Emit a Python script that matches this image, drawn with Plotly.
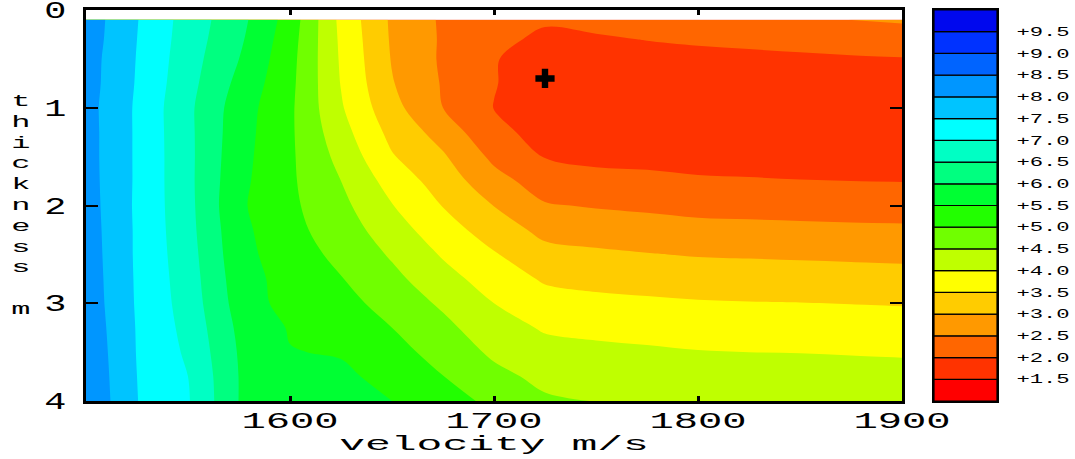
import plotly.graph_objects as go

# ---- data ----
velocity = [1500, 1525, 1550, 1575, 1600, 1625, 1650, 1675, 1700,
            1725, 1750, 1775, 1800, 1825, 1850, 1875, 1900]
thickness = [0.1, 0.3, 0.5, 0.75, 1.0, 1.25, 1.5, 1.75, 2.0,
             2.25, 2.5, 2.75, 3.0, 3.25, 3.5, 3.75, 4.0]
misfit = [
    [8.29, 7.52, 6.79, 6.16, 5.29, 3.87, 2.92, 2.43, 2.22, 2.06, 2.10, 2.15, 2.20, 2.25, 2.33, 2.51, 2.56],
    [8.27, 7.50, 6.76, 6.09, 5.22, 3.91, 2.94, 2.44, 2.13, 1.90, 1.96, 2.01, 2.05, 2.08, 2.12, 2.18, 2.24],
    [8.23, 7.48, 6.72, 6.00, 5.17, 3.94, 2.97, 2.43, 2.02, 1.84, 1.86, 1.88, 1.90, 1.92, 1.94, 1.96, 1.98],
    [8.22, 7.46, 6.67, 5.87, 5.13, 3.98, 3.03, 2.46, 2.02, 1.78, 1.80, 1.82, 1.83, 1.84, 1.85, 1.86, 1.87],
    [8.19, 7.43, 6.61, 5.75, 5.09, 4.05, 3.16, 2.50, 1.99, 1.80, 1.81, 1.82, 1.83, 1.84, 1.85, 1.86, 1.87],
    [8.20, 7.43, 6.62, 5.71, 5.08, 4.19, 3.35, 2.80, 2.10, 1.87, 1.84, 1.83, 1.84, 1.84, 1.85, 1.86, 1.87],
    [8.20, 7.43, 6.63, 5.67, 5.08, 4.35, 3.54, 3.06, 2.39, 1.98, 1.90, 1.87, 1.85, 1.85, 1.85, 1.86, 1.87],
    [8.21, 7.43, 6.63, 5.63, 5.08, 4.50, 3.80, 3.27, 2.68, 2.26, 2.13, 2.11, 2.05, 2.03, 2.01, 2.00, 1.99],
    [8.23, 7.42, 6.65, 5.58, 5.10, 4.63, 4.02, 3.48, 2.99, 2.54, 2.46, 2.41, 2.35, 2.33, 2.31, 2.29, 2.28],
    [8.25, 7.43, 6.67, 5.64, 5.14, 4.76, 4.23, 3.71, 3.27, 2.86, 2.78, 2.71, 2.65, 2.63, 2.61, 2.59, 2.58],
    [8.27, 7.43, 6.71, 5.68, 5.21, 4.89, 4.44, 3.95, 3.54, 3.16, 3.08, 3.02, 2.97, 2.95, 2.93, 2.91, 2.89],
    [8.29, 7.44, 6.75, 5.74, 5.29, 5.02, 4.63, 4.18, 3.77, 3.44, 3.36, 3.31, 3.26, 3.24, 3.22, 3.20, 3.18],
    [8.31, 7.45, 6.79, 5.80, 5.30, 5.17, 4.81, 4.42, 4.00, 3.70, 3.62, 3.58, 3.54, 3.52, 3.51, 3.49, 3.47],
    [8.35, 7.47, 6.85, 5.90, 5.46, 5.32, 5.00, 4.63, 4.20, 3.95, 3.88, 3.83, 3.78, 3.77, 3.75, 3.73, 3.71],
    [8.39, 7.48, 6.92, 5.96, 5.52, 5.46, 5.17, 4.82, 4.41, 4.16, 4.11, 4.07, 4.02, 4.00, 3.99, 3.97, 3.95],
    [8.42, 7.50, 7.00, 5.99, 5.70, 5.60, 5.34, 5.01, 4.64, 4.37, 4.33, 4.29, 4.24, 4.22, 4.21, 4.19, 4.17],
    [8.45, 7.51, 7.04, 5.99, 5.83, 5.70, 5.50, 5.18, 4.90, 4.57, 4.49, 4.46, 4.44, 4.42, 4.41, 4.40, 4.38],
]
best_velocity = [1725]
best_thickness = [0.7]

levels = [1.5, 2.0, 2.5, 3.0, 3.5, 4.0, 4.5, 5.0, 5.5, 6.0, 6.5, 7.0, 7.5, 8.0, 8.5, 9.0, 9.5]
level_labels = ["+1.5", "+2.0", "+2.5", "+3.0", "+3.5", "+4.0", "+4.5", "+5.0", "+5.5",
                "+6.0", "+6.5", "+7.0", "+7.5", "+8.0", "+8.5", "+9.0", "+9.5"]
band_colors = ["#FF0000", "#FF3300", "#FF6600", "#FF9900", "#FFCC00", "#FFFF00",
               "#BFFF00", "#70FF00", "#22FF00", "#00FF33", "#00FF80", "#00FFC4",
               "#00FFFF", "#00C4FF", "#0096FF", "#0064FF", "#0032FF", "#0008EE"]

FONT = "Liberation Mono"
step = levels[1] - levels[0]
n = len(band_colors)
colorscale = [[i / (n - 1), c] for i, c in enumerate(band_colors)]

fig = go.Figure()

fig.add_trace(go.Contour(
    x=velocity, y=thickness, z=misfit,
    autocontour=False,
    contours=dict(start=levels[0], end=levels[-1], size=step,
                  coloring="fill", showlines=False),
    line=dict(width=0),
    colorscale=colorscale,
    showscale=False,
    hoverinfo="skip",
))

fig.add_trace(go.Scatter(
    x=best_velocity, y=best_thickness, mode="markers",
    marker=dict(symbol="cross", size=16, color="black"),
    showlegend=False, hoverinfo="skip",
))

# discrete colour key drawn as stacked bands
band_base = [levels[0] - step] + levels
fig.add_trace(go.Bar(
    x=[0] * n, y=[step] * n, base=band_base, width=1,
    marker=dict(color=band_colors, line=dict(color="black", width=1.2)),
    xaxis="x2", yaxis="y2", showlegend=False, hoverinfo="skip",
))

W, H = 1075, 459
ml, mr, mt, mb = 86, 78, 10, 58
pw = W - ml - mr
ph = H - mt - mb
plot_right = 902
cb_left = 934

fig.update_layout(
    width=W, height=H,
    margin=dict(l=ml, r=mr, t=mt, b=mb, pad=0, autoexpand=False),
    paper_bgcolor="white", plot_bgcolor="white",
    showlegend=False,
    font=dict(family=FONT, color="black"),
    xaxis=dict(
        domain=[0, (plot_right - ml) / pw], range=[1500, 1900], automargin=False,
        tickvals=[1600, 1700, 1800, 1900], ticks="inside", ticklen=5, tickwidth=3,
        tickcolor="black", showline=True, linewidth=3, linecolor="black",
        mirror="ticks", showgrid=False, zeroline=False,
        tickfont=dict(family=FONT, size=22, color="black"),
        ticklabeloverflow="allow", ticklabelstandoff=-2,
    ),
    yaxis=dict(
        domain=[0, 1], range=[4, 0], automargin=False,
        tickvals=[0, 1, 2, 3, 4], ticks="inside", ticklen=12, tickwidth=2,
        tickcolor="black", showline=True, linewidth=3, linecolor="black",
        mirror="ticks", showgrid=False, zeroline=False,
        tickfont=dict(family=FONT, size=23, color="black"),
        ticklabeloverflow="allow", ticklabelstandoff=12,
    ),
    xaxis2=dict(
        domain=[(cb_left - ml) / pw, 1], range=[-0.5, 0.5], automargin=False,
        anchor="y2", showticklabels=False, ticks="", showgrid=False, zeroline=False,
        showline=True, linewidth=2, linecolor="black", mirror=True,
    ),
    yaxis2=dict(
        domain=[0, 1], range=[band_base[0], levels[-1] + step], anchor="x2", side="right",
        automargin=False, tickvals=levels, ticktext=level_labels, ticks="",
        showgrid=False, zeroline=False,
        showline=True, linewidth=2, linecolor="black", mirror=True,
        tickfont=dict(family=FONT, size=12, color="black"),
        ticklabeloverflow="allow", ticklabelstandoff=15,
    ),
    annotations=[
        dict(text="velocity m/s", xref="paper", yref="paper",
             x=(494 - ml) / pw, y=1 - (444 - mt) / ph,
             xanchor="center", yanchor="middle", showarrow=False,
             font=dict(family=FONT, size=20, color="black")),
        dict(text="t<br>h<br>i<br>c<br>k<br>n<br>e<br>s<br>s<br><br>m",
             xref="paper", yref="paper",
             x=(21 - ml) / pw, y=1 - (206 - mt) / ph,
             xanchor="center", yanchor="middle", showarrow=False,
             font=dict(family=FONT, size=16, color="black")),
    ],
)

# the original lettering is a wide stroke font: widen the glyphs of each text
widen_js = """
var gd = document.getElementById('{plot_id}');
function widen(nodes, f) {
  nodes.forEach(function (t) {
    var w = t.getComputedTextLength();
    if (w > 0) {
      t.setAttribute('textLength', (w * f).toFixed(1));
      t.setAttribute('lengthAdjust', 'spacingAndGlyphs');
    }
  });
}
function pick(sel, match) {
  return Array.prototype.filter.call(gd.querySelectorAll(sel), function (t) {
    return !match || t.textContent.indexOf(match) >= 0;
  });
}
widen(pick('g.xtick text'), 1.84);
widen(pick('g.ytick text'), 1.6);
widen(pick('g.y2tick text'), 1.85);
widen(pick('g.annotation text', 'velocity'), 2.15);
pick('g.annotation text', 'thick').forEach(function (t) {
  widen(Array.prototype.slice.call(t.querySelectorAll('tspan')), 2.0);
});
"""

fig.write_html("out.html", post_script=widen_js)
